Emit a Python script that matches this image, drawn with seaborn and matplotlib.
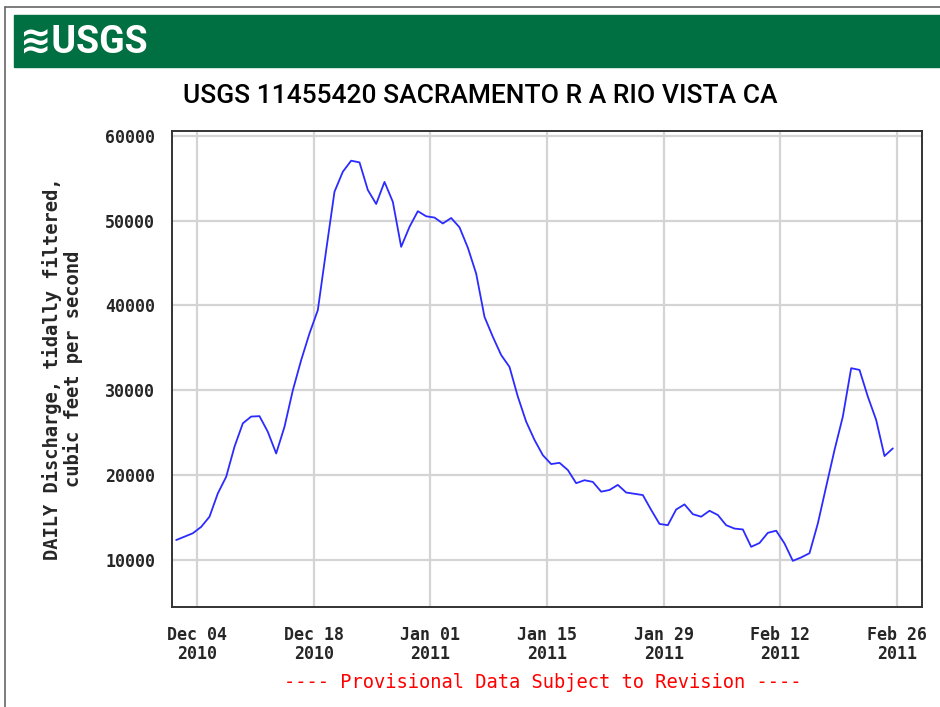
import matplotlib
matplotlib.use("Agg")
import matplotlib.pyplot as plt
import matplotlib.dates as mdates
from matplotlib.patches import Rectangle
from matplotlib.lines import Line2D
import seaborn as sns
import pandas as pd

# daily discharge, Dec 01 2010 .. Feb 25 2011 (cfs)
start_day = "2010-12-01 12:00"
discharge = [
    12350, 12750, 13150, 13900, 15100, 17850, 19800, 23350, 26100, 26900,
    26950, 25100, 22550, 25700, 30000, 33550, 36700, 39450, 46500, 53400,
    55750, 57050, 56850, 53600, 51950, 54550, 52200, 46900, 49250, 51100,
    50500, 50350, 49650, 50300, 49200, 46800, 43750, 38650, 36300, 34150,
    32750, 29250, 26300, 24150, 22350, 21300, 21450, 20600, 19050, 19400,
    19200, 18050, 18250, 18850, 17950, 17800, 17650, 15900, 14250, 14100,
    15950, 16550, 15400, 15100, 15800, 15300, 14100, 13700, 13600, 11550,
    12000, 13200, 13450, 11950, 9900, 10300, 10800, 14300, 18650, 22950,
    26900, 32600, 32400, 29250, 26500, 22250, 23150,
]
tick_dates = ["2010-12-04", "2010-12-18", "2011-01-01", "2011-01-15",
              "2011-01-29", "2011-02-12", "2011-02-26"]
y_ticks = [10000, 20000, 30000, 40000, 50000, 60000]

title = "USGS 11455420 SACRAMENTO R A RIO VISTA CA"
ylabel = "DAILY Discharge, tidally filtered,\ncubic feet per second"
note = "---- Provisional Data Subject to Revision ----"

df = pd.DataFrame({
    "date": pd.date_range(start_day, periods=len(discharge), freq="D"),
    "discharge": discharge,
})

sns.set_style("white")
mono = ["DejaVu Sans Mono"]
narrow = ["Roboto", "DejaVu Sans"]

W, H = 940, 707
fig = plt.figure(figsize=(W / 100, H / 100), dpi=100)

# outer frame and green banner
fig.add_artist(Line2D([5 / W, 5 / W], [0, 1 - 7 / H], color="#666666", lw=1.2))
fig.add_artist(Line2D([5 / W, 1], [1 - 7 / H, 1 - 7 / H], color="#666666", lw=1.2))
fig.add_artist(Rectangle((14 / W, 1 - 67 / H), 1 - 14 / W, 52 / H,
                         transform=fig.transFigure, color="#006f41", zorder=0))
fig.text(20 / W, 1 - 42 / H, "\u224bUSGS", color="white", fontsize=27,
         fontweight="bold", family=narrow, va="center", ha="left")

fig.text(480 / W, 1 - 96 / H, title, fontsize=19, family=narrow,
         fontweight="medium", ha="center", va="center", color="black")

ax = fig.add_axes([172 / W, 1 - 607 / H, 750 / W, 476 / H])
sns.lineplot(data=df, x="date", y="discharge", ax=ax, color="#2b2bff", lw=1.3)

ax.set_xlim(pd.Timestamp("2010-12-01"), pd.Timestamp("2011-03-01"))
ax.set_ylim(4460, 60550)
ax.set_xticks(pd.to_datetime(tick_dates))
ax.xaxis.set_major_formatter(mdates.DateFormatter("%b %d\n%Y"))
ax.set_yticks(y_ticks)
ax.grid(True, color="#d4d4d4", lw=1.6)
ax.set_axisbelow(True)
ax.tick_params(axis="x", length=0, pad=14)
ax.tick_params(axis="y", length=0, pad=12)
for lab in ax.get_xticklabels() + ax.get_yticklabels():
    lab.set_family(mono)
    lab.set_fontweight("bold")
    lab.set_fontsize(12)
    lab.set_linespacing(1.05)
for s in ax.spines.values():
    s.set_color("#333333")
    s.set_linewidth(1.4)
ax.set_xlabel("")
ax.set_ylabel(ylabel, family=mono, fontweight="bold", fontsize=13.5,
              linespacing=1.05, labelpad=16)

fig.text(543 / W, 1 - 683 / H, note, color="#ff0000", fontsize=13.5,
         family=mono, ha="center", va="center")

fig.savefig("out.png", dpi=100)
